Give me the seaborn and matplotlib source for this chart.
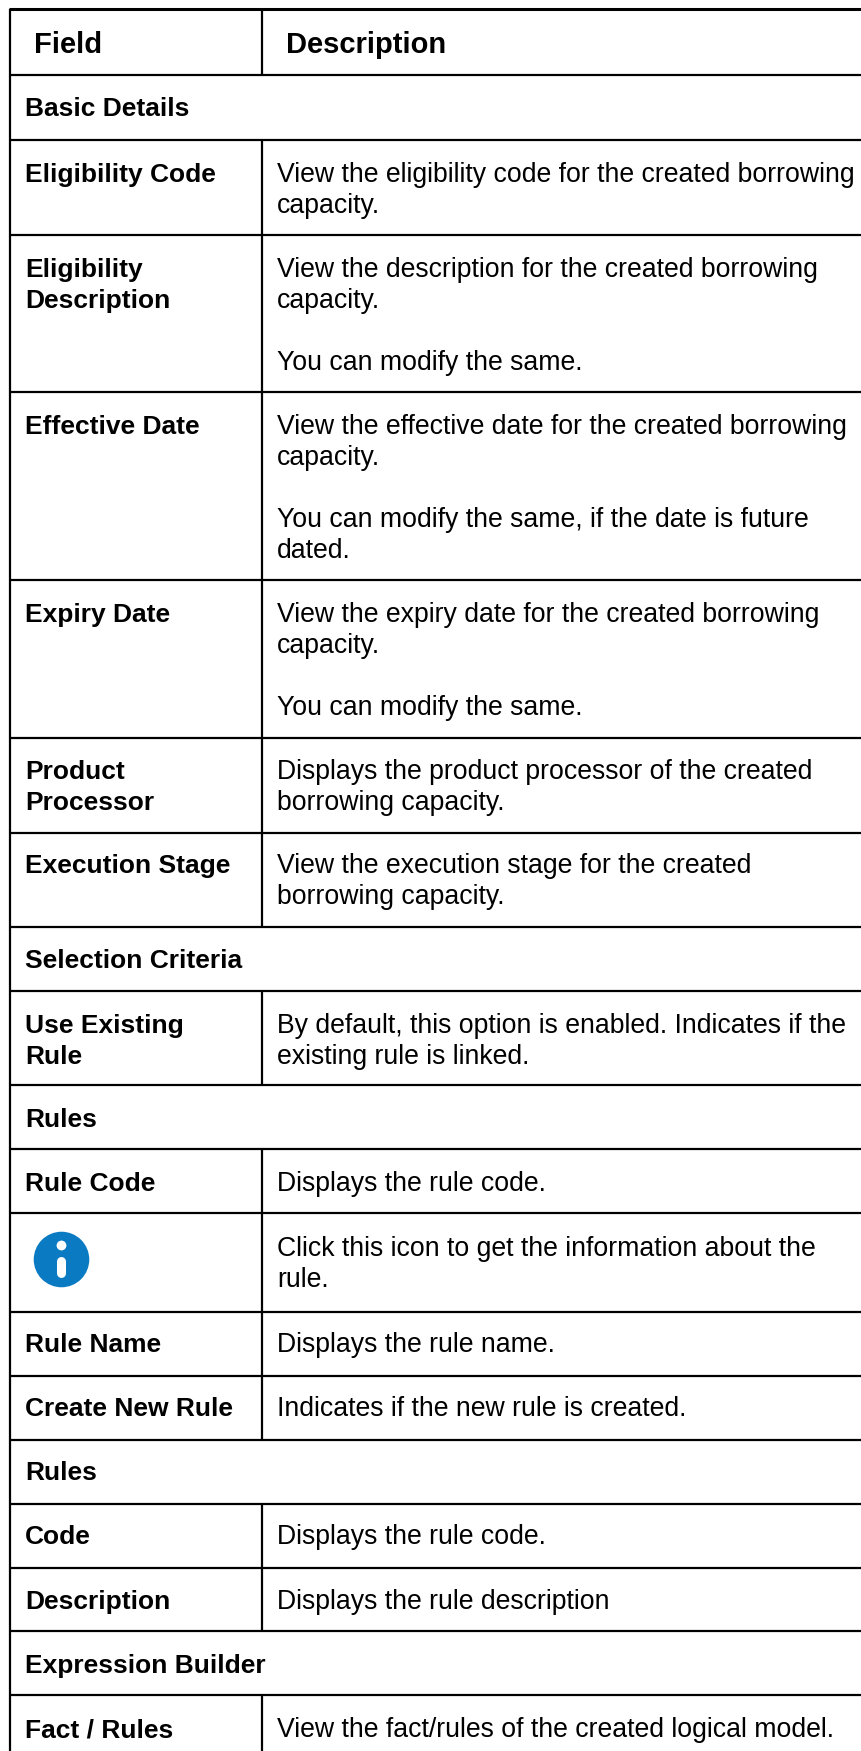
import numpy as np
import pandas as pd
import seaborn as sns
import matplotlib.pyplot as plt

# Table content
header_field = 'Field'
header_desc = 'Description'

row_fields = [
    ['Basic Details'],
    ['Eligibility Code'],
    ['Eligibility', 'Description'],
    ['Effective Date'],
    ['Expiry Date'],
    ['Product', 'Processor'],
    ['Execution Stage'],
    ['Selection Criteria'],
    ['Use Existing', 'Rule'],
    ['Rules'],
    ['Rule Code'],
    [],
    ['Rule Name'],
    ['Create New Rule'],
    ['Rules'],
    ['Code'],
    ['Description'],
    ['Expression Builder'],
    ['Fact / Rules'],
]
row_descs = [
    None,
    ['View the eligibility code for the created borrowing', 'capacity.'],
    ['View the description for the created borrowing', 'capacity.', '', 'You can modify the same.'],
    ['View the effective date for the created borrowing', 'capacity.', '', 'You can modify the same, if the date is future', 'dated.'],
    ['View the expiry date for the created borrowing', 'capacity.', '', 'You can modify the same.'],
    ['Displays the product processor of the created', 'borrowing capacity.'],
    ['View the execution stage for the created', 'borrowing capacity.'],
    None,
    ['By default, this option is enabled. Indicates if the', 'existing rule is linked.'],
    None,
    ['Displays the rule code.'],
    ['Click this icon to get the information about the', 'rule.'],
    ['Displays the rule name.'],
    ['Indicates if the new rule is created.'],
    None,
    ['Displays the rule code.'],
    ['Displays the rule description'],
    None,
    ['View the fact/rules of the created logical model.'],
]

# Layout, in pixels of the 862x1751 picture
row_heights = [65, 95, 157, 188, 158, 95, 94, 64, 94, 64, 64, 99, 64, 64, 64, 64, 63, 64, 56]
baseline_offsets = [41, 42, 42, 42, 42, 41, 40, 41, 42, 42, 42, 43, 40, 40, 40, 40, 41, 42, 42]
table_top = 9
header_bottom = 75
left_x = 10
divider_x = 262
right_x = 862
bottom_y = 1751
line_step = 31

sns.set_theme(style='white')
plt.rcParams['font.family'] = ['Liberation Sans', 'DejaVu Sans']
plt.rcParams['lines.solid_capstyle'] = 'butt'

fig, ax = plt.subplots(figsize=(8.62, 17.51), dpi=100)
ax.set_position([0, 0, 1, 1])
ax.axis('off')

row_tops = header_bottom + np.concatenate([[0], np.cumsum(row_heights)[:-1]])
row_bottoms = header_bottom + np.cumsum(row_heights)

# Horizontal and vertical rules as long-form segments
segments = []
def add_segment(x0, y0, x1, y1):
    seg = len(segments) // 2
    segments.append({'seg': seg, 'x': x0, 'y': y0})
    segments.append({'seg': seg, 'x': x1, 'y': y1})

add_segment(left_x, table_top, left_x, bottom_y)
add_segment(divider_x, table_top, divider_x, header_bottom)
add_segment(left_x, header_bottom, right_x, header_bottom)
for top, bottom, desc in zip(row_tops, row_bottoms, row_descs):
    if bottom < bottom_y:
        add_segment(left_x, bottom, right_x, bottom)
    if desc is not None:
        add_segment(divider_x, top, divider_x, bottom)
rules = pd.DataFrame(segments)
sns.lineplot(data=rules, x='x', y='y', units='seg', estimator=None, sort=False,
             color='black', linewidth=1.6, legend=False, ax=ax)

top_rule = pd.DataFrame({'x': [left_x - 1, right_x], 'y': [table_top, table_top]})
sns.lineplot(data=top_rule, x='x', y='y', estimator=None, sort=False,
             color='black', linewidth=2.2, legend=False, ax=ax)

ax.set_xlim(0, 862)
ax.set_ylim(1751, 0)

# Header
ax.text(34, 53, header_field, fontsize=21, fontweight='bold', color='black', va='baseline')
ax.text(286, 53, header_desc, fontsize=21, fontweight='bold', color='black', va='baseline')

# Body text
for top, offset, field, desc in zip(row_tops, baseline_offsets, row_fields, row_descs):
    for i, line in enumerate(field):
        ax.text(25, top + offset + i * line_step, line, fontsize=19, fontweight='bold',
                color='black', va='baseline')
    if desc is not None:
        for i, line in enumerate(desc):
            ax.text(277, top + offset + i * line_step, line, fontsize=19.2,
                    color='black', va='baseline')

# Info icon in the row with no field label
icon = pd.DataFrame({'x': [61], 'y': [1259]})
sns.scatterplot(data=icon, x='x', y='y', s=1600, color='#0A7AC2', linewidth=0, legend=False, ax=ax)
dot = pd.DataFrame({'x': [61], 'y': [1245]})
sns.scatterplot(data=dot, x='x', y='y', s=50, color='white', linewidth=0, legend=False, ax=ax)
stem = pd.DataFrame({'x': [61, 61], 'y': [1261, 1273]})
sns.lineplot(data=stem, x='x', y='y', estimator=None, sort=False, color='white',
             linewidth=6.5, solid_capstyle='round', legend=False, ax=ax)

ax.set_xlabel('')
ax.set_ylabel('')
fig.savefig('out.png', dpi=100, facecolor='white')
